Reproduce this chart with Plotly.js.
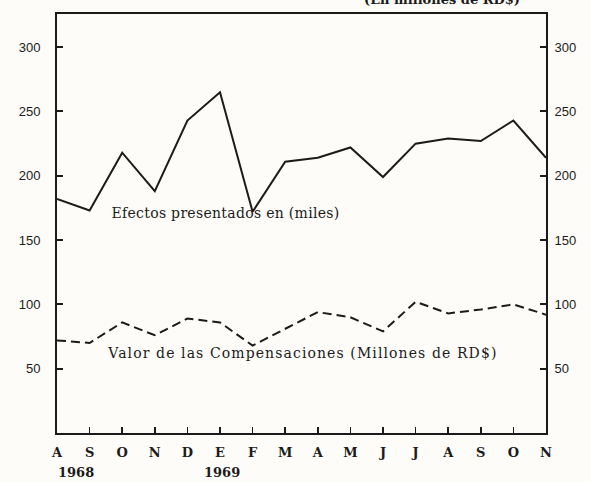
<!DOCTYPE html>
<html>
<head>
<meta charset="utf-8">
<script src="https://cdn.plot.ly/plotly-3.0.1.min.js"></script>
<style>
html,body{margin:0;padding:0;background:#fdfcf8;}
#chart{width:591px;height:482px;}
g.annotation[data-index="0"] text{letter-spacing:0.3px;}
g.annotation[data-index="1"] text{letter-spacing:1.1px;}
</style>
</head>
<body>
<div id="chart"></div>
<script>
// Months Aug 1968 - Nov 1969
const monthLabels = ["A","S","O","N","D","E","F","M","A","M","J","J","A","S","O","N"];
const monthIndex = [0,1,2,3,4,5,6,7,8,9,10,11,12,13,14,15];
// Efectos presentados (miles)
const efectos = [182,173,218,188,243,265,172,211,214,222,199,225,229,227,243,214];
// Valor de las Compensaciones (Millones de RD$)
const valor = [72,70,86,76,89,86,68,81,94,90,79,102,93,96,100,92];
const yTicks = [50,100,150,200,250,300];
const yearLabels = ["1968","1969"];
const yearPos = [0.58,5.06];

const ink = "#1b1b1b";
const serif = "DejaVu Serif";

const traces = [
  {x: monthIndex, y: efectos, type: "scatter", mode: "lines",
   line: {color: ink, width: 2}, hoverinfo: "skip", showlegend: false},
  {x: monthIndex, y: valor, type: "scatter", mode: "lines", yaxis: "y2",
   line: {color: ink, width: 2, dash: "9px,5px"}, hoverinfo: "skip", showlegend: false}
];

const yCommon = {
  range: [0, 325.8], tickvals: yTicks, ticks: "inside", ticklen: 6, tickwidth: 2,
  tickcolor: ink, showline: true, linecolor: ink, linewidth: 2, showgrid: false,
  zeroline: false, fixedrange: true,
  tickfont: {family: "Liberation Sans", size: 13, color: ink}
};

const layout = {
  width: 591, height: 482,
  margin: {l: 57, r: 45, t: 14, b: 49},
  paper_bgcolor: "#fdfcf8", plot_bgcolor: "#fdfcf8",
  showlegend: false,
  xaxis: {
    range: [0, 15], tickvals: monthIndex, ticktext: monthLabels.map(m => "<b>" + m + "</b>"),
    ticks: "inside", ticklen: 6, tickwidth: 1.5, tickcolor: ink,
    showline: true, mirror: true, linecolor: ink, linewidth: 2,
    showgrid: false, zeroline: false, fixedrange: true,
    tickfont: {family: serif, size: 13, color: ink}, ticklabelstandoff: 6
  },
  yaxis: Object.assign({}, yCommon, {side: "left", ticklabelstandoff: 12}),
  yaxis2: Object.assign({}, yCommon, {side: "right", overlaying: "y", ticklabelstandoff: 4}),
  annotations: [
    {x: 5.18, y: 171, xref: "x", yref: "y", text: "Efectos presentados en (miles)",
     showarrow: false, font: {family: serif, size: 14, color: ink}},
    {x: 7.52, y: 62, xref: "x", yref: "y", text: "Valor de las Compensaciones (Millones de RD$)",
     showarrow: false, font: {family: serif, size: 14, color: ink}},
    {x: yearPos[0], y: -0.095, xref: "x", yref: "paper", yanchor: "middle", text: "<b>" + yearLabels[0] + "</b>",
     showarrow: false, font: {family: serif, size: 13, color: ink}},
    {x: yearPos[1], y: -0.095, xref: "x", yref: "paper", yanchor: "middle", text: "<b>" + yearLabels[1] + "</b>",
     showarrow: false, font: {family: serif, size: 13, color: ink}},
    {x: 0.787, y: 1.012, xref: "paper", yref: "paper", xanchor: "center", yanchor: "bottom",
     text: "<b>(En millones de RD$)</b>", showarrow: false,
     font: {family: serif, size: 13, color: ink}}
  ]
};

Plotly.newPlot("chart", traces, layout, {staticPlot: true, displayModeBar: false});
</script>
</body>
</html>
